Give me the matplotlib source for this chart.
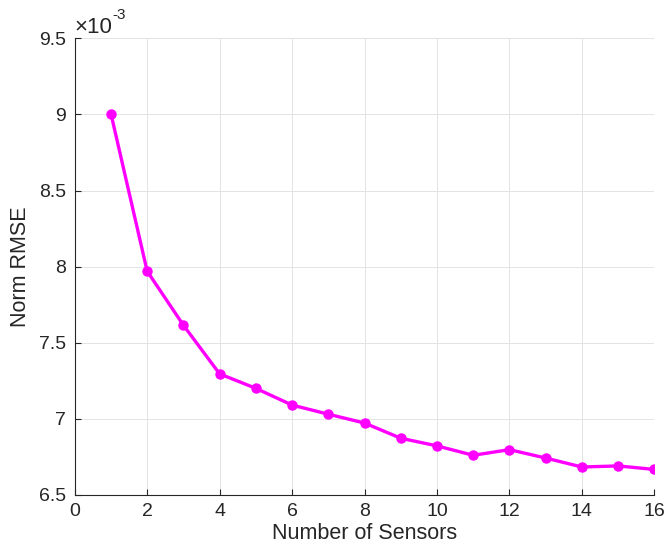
import matplotlib.pyplot as plt
from matplotlib.ticker import FuncFormatter

# Data (Norm RMSE in units of 1e-3)
sensors = list(range(1, 17))
rmse_e3 = [9.005, 7.97, 7.615, 7.295, 7.20, 7.09, 7.03, 6.972, 6.872, 6.822,
           6.76, 6.797, 6.742, 6.683, 6.69, 6.667]
scale = 1e-3
rmse = [v * scale for v in rmse_e3]

plt.rcParams['font.family'] = ['Liberation Sans', 'DejaVu Sans']
dark = '#262626'

fig = plt.figure(figsize=(6.67, 5.56), dpi=100)
ax = fig.add_axes([0.112, 0.110, 0.869, 0.821])

ax.plot(sensors, rmse, color='#ff00ff', lw=2.4, marker='o', ms=6.5, zorder=3)

ax.set_xlim(0, 16)
ax.set_ylim(6.5e-3, 9.5e-3)
ax.set_xticks(range(0, 17, 2))
ax.set_yticks([v * scale for v in [6.5, 7, 7.5, 8, 8.5, 9, 9.5]])
ax.yaxis.set_major_formatter(FuncFormatter(lambda v, p: f"{v / scale:g}"))

ax.grid(True, color='#e3e3e3', lw=0.7)
ax.set_axisbelow(True)
for s in ['top', 'right']:
    ax.spines[s].set_visible(False)
for s in ['left', 'bottom']:
    ax.spines[s].set_color(dark)
    ax.spines[s].set_linewidth(0.8)
ax.tick_params(direction='in', length=4, width=0.8, colors=dark,
               labelsize=14, pad=6)

ax.set_xlabel('Number of Sensors', fontsize=15.5, color=dark, labelpad=2)
ax.set_ylabel('Norm RMSE', fontsize=15.5, color=dark, labelpad=6)

t = ax.text(0.0, 1.0, '\u00d710', transform=ax.transAxes, fontsize=16,
            color=dark, ha='left', va='bottom')
ax.annotate('-3', xy=(1, 1), xycoords=t, xytext=(0, 2), textcoords='offset points',
            fontsize=11, color=dark, ha='left', va='center')

fig.savefig('out.png', dpi=100)
